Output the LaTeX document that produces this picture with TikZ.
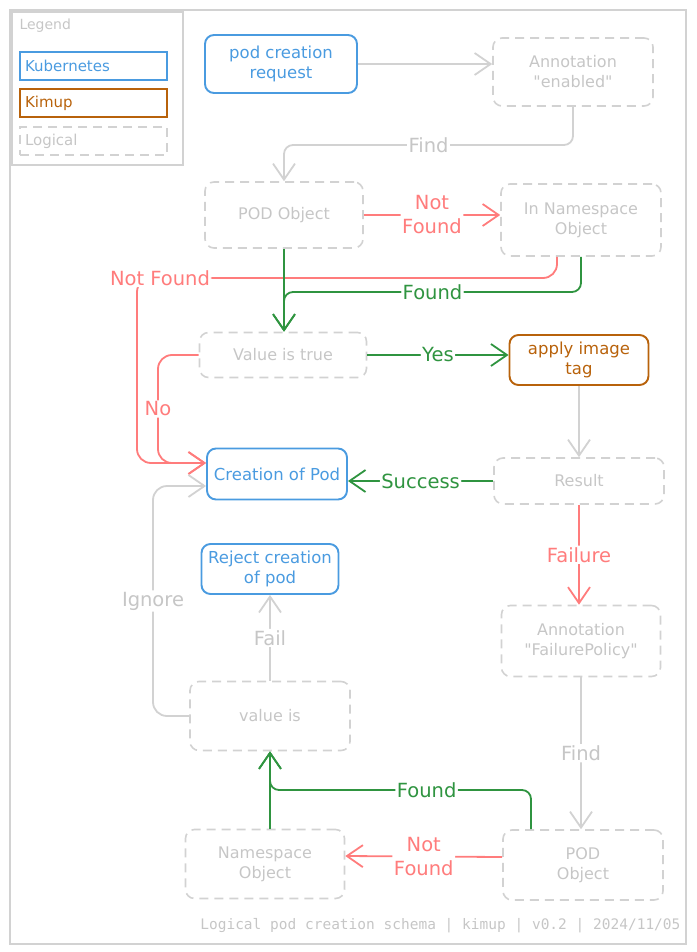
\documentclass[tikz,border=0pt]{standalone}
\usepackage{fontspec}
\setmainfont{DejaVu Sans}[Ligatures=TeXOff]
\setmonofont{DejaVu Sans Mono}
\usetikzlibrary{arrows.meta}

\definecolor{kubeblue}{HTML}{4A9BE0}
\definecolor{kimuporange}{HTML}{B8620B}
\definecolor{logicgray}{HTML}{D2D2D2}
\definecolor{logictext}{HTML}{C6C6C6}
\definecolor{notred}{HTML}{FF7C7C}
\definecolor{okgreen}{HTML}{2F9440}

\begin{document}
\begin{tikzpicture}[x=1pt,y=-1pt,
    kube/.style={rectangle,draw=kubeblue,line width=1.9pt,rounded corners=9pt,text=kubeblue,align=center,inner sep=2pt,font=\fontsize{16.5}{20}\selectfont},
    kimup/.style={kube,draw=kimuporange,text=kimuporange},
    logic/.style={kube,draw=logicgray,text=logictext,line width=1.6pt,dash pattern=on 9pt off 6pt,font=\fontsize{16}{20}\selectfont},
    legbox/.style={rectangle,text width=137pt,minimum height=28pt,align=left,inner sep=5pt,line width=1.2pt,font=\fontsize{15}{17}\selectfont},
    conn/.style={line width=1.8pt,rounded corners=9pt,-{Straight Barb[length=16pt,width=22pt,line width=1.8pt]}},
    lbl/.style={fill=white,inner sep=1.5pt,align=center,font=\fontsize{19.5}{24}\selectfont}]

    \useasboundingbox (0,0) rectangle (696,952);

    % outer frame
    \draw[logicgray,line width=1.2pt] (10,10) rectangle (686,944);

    %%%%%%%%%%%%%%%%%%%%%%%%%%%%%%%%%%%%%%%%%%%%%%%%%%%%%%

    % legend frame
    \draw[logicgray,line width=1.2pt] (12,12) rectangle (183,165);
    \node[anchor=west,text=logictext,font=\fontsize{14}{16}\selectfont] (legtitle) at (16,26) {Legend};
    \node[legbox,draw=kubeblue,text=kubeblue] (legkube) at (93.5,66) {Kubernetes};
    \node[legbox,draw=kimuporange,text=kimuporange] (legkimup) at (93.5,103) {Kimup};
    \node[legbox,draw=logicgray,text=logictext,dash pattern=on 9pt off 6pt] (leglogic) at (93.5,141) {Logical};

    %%%%%%%%%%%%%%%%%%%%%%%%%%%%%%%%%%%%%%%%%%%%%%%%%%%%%%

    % request and first annotation
    \node[kube,minimum width=152pt,minimum height=58pt] (req) at (281,64) {pod creation\\request};
    \node[logic,minimum width=160pt,minimum height=68pt] (ann1) at (573,72) {Annotation\\"enabled"};

    % objects carrying the annotation
    \node[logic,minimum width=158pt,minimum height=66pt] (pod1) at (284,215) {POD Object};
    \node[logic,minimum width=160pt,minimum height=72pt] (ns1) at (581,220) {In Namespace\\Object};

    % value check and tagging
    \node[logic,minimum width=167pt,minimum height=45pt] (valtrue) at (283,355) {Value is true};
    \node[kimup,minimum width=139pt,minimum height=50pt] (apply) at (579,360) {apply image\\tag};

    % creation and result
    \node[kube,minimum width=140pt,minimum height=51pt] (create) at (277,474) {Creation of Pod};
    \node[logic,minimum width=170pt,minimum height=46pt] (result) at (579,481) {Result};

    % rejection
    \node[kube,minimum width=137pt,minimum height=50pt] (reject) at (270,569) {Reject creation\\of pod};

    % failure policy
    \node[logic,minimum width=159pt,minimum height=71pt] (ann2) at (581,641) {Annotation\\"FailurePolicy"};
    \node[logic,minimum width=160pt,minimum height=69pt] (valueis) at (270,716) {value is};

    % objects carrying the failure policy
    \node[logic,minimum width=159pt,minimum height=69pt] (ns2) at (265,864) {Namespace\\Object};
    \node[logic,minimum width=160pt,minimum height=70pt] (pod2) at (583,865) {POD\\Object};

    %%%%%%%%%%%%%%%%%%%%%%%%%%%%%%%%%%%%%%%%%%%%%%%%%%%%%%

    \coordinate (findjoin) at (284,145);
    \coordinate (nfcorner) at (137,278);
    \coordinate (fdjoin) at (284,292);
    \coordinate (nocorner) at (158,355);
    \coordinate (igcorner) at (153,716);
    \coordinate (fdjoin2) at (270,790);
    \coordinate (crtop) at ([yshift=11pt]create.west);
    \coordinate (crlow) at ([yshift=-12pt]create.west);

    % request to annotation
    \draw[conn,logicgray] (req.east) -- (ann1.west |- req.east);

    % annotation to pod object
    \draw[conn,logicgray] (ann1.south) |- node[lbl,pos=0.75,text=logictext]{Find} (findjoin) -- (pod1.north);

    % pod object not found
    \draw[conn,notred] (pod1.east) -- node[lbl,text=notred]{Not\\Found} (ns1.west |- pod1.east);

    % namespace not found
    \draw[conn,notred,rounded corners=14pt] ([xshift=-24pt]ns1.south) |- (nfcorner) node[lbl,text=notred,xshift=23pt]{Not Found} |- (crtop);

    % found in namespace or pod
    \draw[conn,okgreen] (ns1.south) |- node[lbl,pos=0.75,text=okgreen]{Found} (fdjoin) -- (valtrue.north -| fdjoin);
    \draw[conn,okgreen] (pod1.south) -- (valtrue.north -| pod1.south);

    % value is true
    \draw[conn,okgreen] (valtrue.east) -- node[lbl,text=okgreen]{Yes} (apply.west |- valtrue.east);
    \draw[conn,notred,rounded corners=14pt] (valtrue.west) -- (nocorner) |- node[lbl,pos=0.25,text=notred]{No} (crtop);

    % tagging result
    \draw[conn,logicgray] (apply.south) -- (result.north -| apply.south);
    \draw[conn,okgreen] (result.west) -- node[lbl,text=okgreen]{Success} (create.east |- result.west);
    \draw[conn,notred] (result.south) -- node[lbl,text=notred]{Failure} (ann2.north -| result.south);

    % failure policy lookup
    \draw[conn,logicgray] (ann2.south) -- node[lbl,text=logictext]{Find} (pod2.north -| ann2.south);
    \draw[conn,notred] ([yshift=8pt]pod2.west) -- node[lbl,text=notred]{Not\\Found} ([yshift=8pt]ns2.east);
    \draw[conn,okgreen] ([xshift=-52pt]pod2.north) |- node[lbl,pos=0.7,text=okgreen]{Found} (fdjoin2) -- (valueis.south -| fdjoin2);
    \draw[conn,okgreen] (ns2.north -| fdjoin2) -- (valueis.south -| fdjoin2);

    % failure policy value
    \draw[conn,logicgray] (valueis.north) -- node[lbl,text=logictext]{Fail} (reject.south);
    \draw[conn,logicgray,rounded corners=14pt] (valueis.west) -- (igcorner) |- node[lbl,pos=0.25,text=logictext]{Ignore} (crlow);

    %%%%%%%%%%%%%%%%%%%%%%%%%%%%%%%%%%%%%%%%%%%%%%%%%%%%%%

    % footer
    \node[anchor=east,text=logictext,font=\ttfamily\fontsize{14.5}{17}\selectfont] (footer) at (684,926) {Logical pod creation schema | kimup | v0.2 | 2024/11/05};

\end{tikzpicture}
\end{document}
